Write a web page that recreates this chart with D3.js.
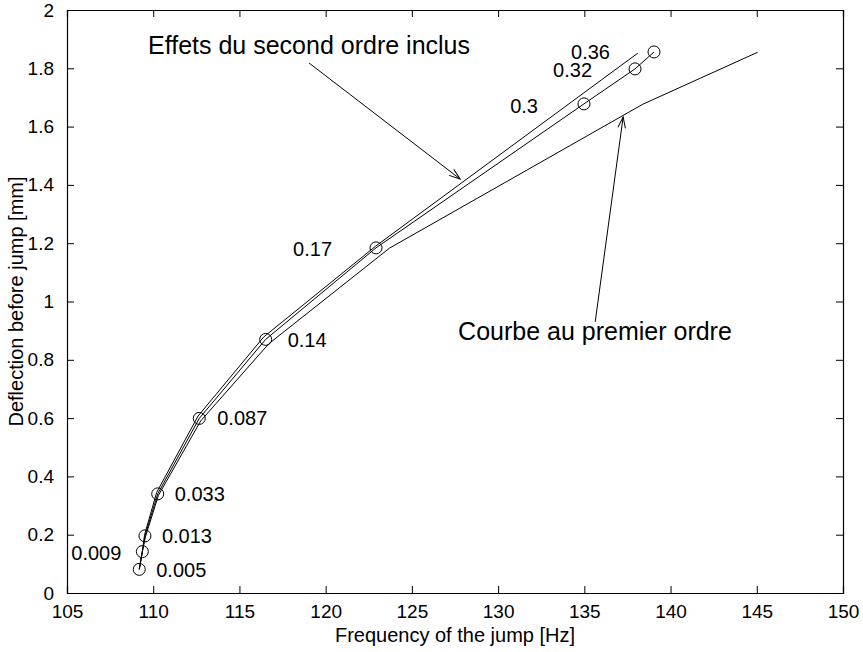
<!DOCTYPE html>
<html>
<head>
<meta charset="utf-8">
<script src="https://cdn.jsdelivr.net/npm/d3@7"></script>
<style>
    body { margin: 0; background: #fff; }
    text { font-family: "Liberation Sans", Arial, sans-serif; fill: #000; }
</style>
</head>
<body>
<div id="my_dataviz"></div>
<script>
// Measured points (circles) with their labels
const pointFreq  = [109.19, 109.37, 109.52, 110.26, 112.67, 116.52, 122.92, 134.98, 137.94, 139.04];
const pointDefl  = [0.081, 0.142, 0.196, 0.340, 0.599, 0.870, 1.184, 1.678, 1.798, 1.856];
const pointLabel = ["0.005", "0.009", "0.013", "0.033", "0.087", "0.14", "0.17", "0.3", "0.32", "0.36"];

// Curve with second order effects
const secondFreq = [109.19, 109.37, 109.50, 110.20, 112.60, 116.40, 122.90, 138.10];
const secondDefl = [0.081, 0.142, 0.200, 0.345, 0.607, 0.878, 1.190, 1.852];

// First order curve
const firstFreq = [109.19, 109.37, 109.55, 110.30, 112.75, 116.70, 123.70, 138.40, 145.05];
const firstDefl = [0.081, 0.142, 0.193, 0.335, 0.590, 0.855, 1.183, 1.677, 1.855];

// Axis ticks
const xTicks = [105, 110, 115, 120, 125, 130, 135, 140, 145, 150];
const yTicks = [0, 0.2, 0.4, 0.6, 0.8, 1, 1.2, 1.4, 1.6, 1.8, 2];

// Annotations: text and arrow (data coordinates)
const noteText = ["Effets du second ordre inclus", "Courbe au premier ordre"];
const noteTextX = [109.7, 127.68];
const noteTextY = [1.849, 0.868];
const arrowFrom = [[119.04, 1.818], [135.63, 0.93]];
const arrowTo   = [[127.8, 1.42], [137.25, 1.633]];

// Label placement relative to each circle (pixels)
const labelLayout = [
    {dx: 17, dy: 1, anchor: "start"},
    {dx: -21, dy: 1, anchor: "end"},
    {dx: 17, dy: 0, anchor: "start"},
    {dx: 17, dy: 0, anchor: "start"},
    {dx: 18, dy: 0, anchor: "start"},
    {dx: 22, dy: 1, anchor: "start"},
    {dx: -44, dy: 1, anchor: "end"},
    {dx: -46, dy: 2, anchor: "end"},
    {dx: -43, dy: 1, anchor: "end"},
    {dx: -44, dy: 0, anchor: "end"}
];

const margin = {top: 10, right: 20, bottom: 59, left: 67},
    width = 863 - margin.left - margin.right,
    height = 652 - margin.top - margin.bottom;

const svg = d3.select("#my_dataviz").append("svg")
    .attr("width", 863)
    .attr("height", 652);

const g = svg.append("g")
    .attr("transform", "translate(" + margin.left + "," + margin.top + ")");

// Scales
const x = d3.scaleLinear().domain([105, 150]).range([0, width]);
const y = d3.scaleLinear().domain([0, 2]).range([height, 0]);

// Arrow head marker (open)
svg.append("defs").append("marker")
    .attr("id", "arrowhead")
    .attr("viewBox", "-12 -6 14 12")
    .attr("refX", 0).attr("refY", 0)
    .attr("markerWidth", 14).attr("markerHeight", 12)
    .attr("markerUnits", "userSpaceOnUse")
    .attr("orient", "auto")
    .append("path")
        .attr("d", "M-11,-3.8L0,0L-11,3.8")
        .attr("fill", "none")
        .attr("stroke", "#000")
        .attr("stroke-width", 1);

// Axes with inward ticks, mirrored on top and right
const fmt = d => d3.format("")(+d.toFixed(1));
const axisFont = "19px";

const xBottom = g.append("g")
    .attr("transform", "translate(0," + height + ")")
    .call(d3.axisBottom(x).tickValues(xTicks).tickSize(-7).tickPadding(12).tickFormat(d3.format("d")));
const xTop = g.append("g")
    .call(d3.axisTop(x).tickValues(xTicks).tickSize(-7).tickFormat(""));
const yLeft = g.append("g")
    .call(d3.axisLeft(y).tickValues(yTicks).tickSize(-7).tickPadding(13).tickFormat(fmt));
const yRight = g.append("g")
    .attr("transform", "translate(" + width + ",0)")
    .call(d3.axisRight(y).tickValues(yTicks).tickSize(-7).tickFormat(""));

[xBottom, xTop, yLeft, yRight].forEach(a => {
    a.select(".domain").attr("stroke", "#000").attr("stroke-width", 1.2);
    a.selectAll(".tick line").attr("stroke", "#000");
    a.selectAll("text")
        .style("font-family", "'Liberation Sans', Arial, sans-serif")
        .style("font-size", axisFont)
        .attr("fill", "#000");
});
xBottom.selectAll(".tick text").attr("dy", "0.71em");

// Axis titles
g.append("text")
    .attr("x", width / 2)
    .attr("y", height + 49)
    .attr("text-anchor", "middle")
    .style("font-size", "20px")
    .text("Frequency of the jump [Hz]");

g.append("text")
    .attr("transform", "rotate(-90)")
    .attr("x", -height / 2)
    .attr("y", -44)
    .attr("text-anchor", "middle")
    .style("font-size", "20px")
    .text("Deflection before jump [mm]");

// Lines
const line = d3.line()
    .x(d => x(d[0]))
    .y(d => y(d[1]));

const curves = [
    d3.zip(firstFreq, firstDefl),
    d3.zip(secondFreq, secondDefl),
    d3.zip(pointFreq, pointDefl)
];

g.selectAll(".curve")
    .data(curves)
    .enter().append("path")
        .attr("class", "curve")
        .attr("fill", "none")
        .attr("stroke", "#000")
        .attr("stroke-width", 1)
        .attr("d", line);

// Circles
g.selectAll(".pt")
    .data(d3.zip(pointFreq, pointDefl))
    .enter().append("circle")
        .attr("class", "pt")
        .attr("cx", d => x(d[0]))
        .attr("cy", d => y(d[1]))
        .attr("r", 6)
        .attr("fill", "none")
        .attr("stroke", "#000")
        .attr("stroke-width", 1);

// Point labels
g.selectAll(".pt-label")
    .data(pointLabel)
    .enter().append("text")
        .attr("class", "pt-label")
        .attr("x", (d, i) => x(pointFreq[i]) + labelLayout[i].dx)
        .attr("y", (d, i) => y(pointDefl[i]) + labelLayout[i].dy)
        .attr("dy", "0.35em")
        .attr("text-anchor", (d, i) => labelLayout[i].anchor)
        .style("font-size", "20px")
        .text(d => d);

// Annotations with arrows
noteText.forEach(function(t, i) {
    g.append("text")
        .attr("x", x(noteTextX[i]))
        .attr("y", y(noteTextY[i]))
        .style("font-size", "25px")
        .text(t);

    g.append("line")
        .attr("x1", x(arrowFrom[i][0]))
        .attr("y1", y(arrowFrom[i][1]))
        .attr("x2", x(arrowTo[i][0]))
        .attr("y2", y(arrowTo[i][1]))
        .attr("stroke", "#000")
        .attr("stroke-width", 1)
        .attr("marker-end", "url(#arrowhead)");
});
</script>
</body>
</html>
